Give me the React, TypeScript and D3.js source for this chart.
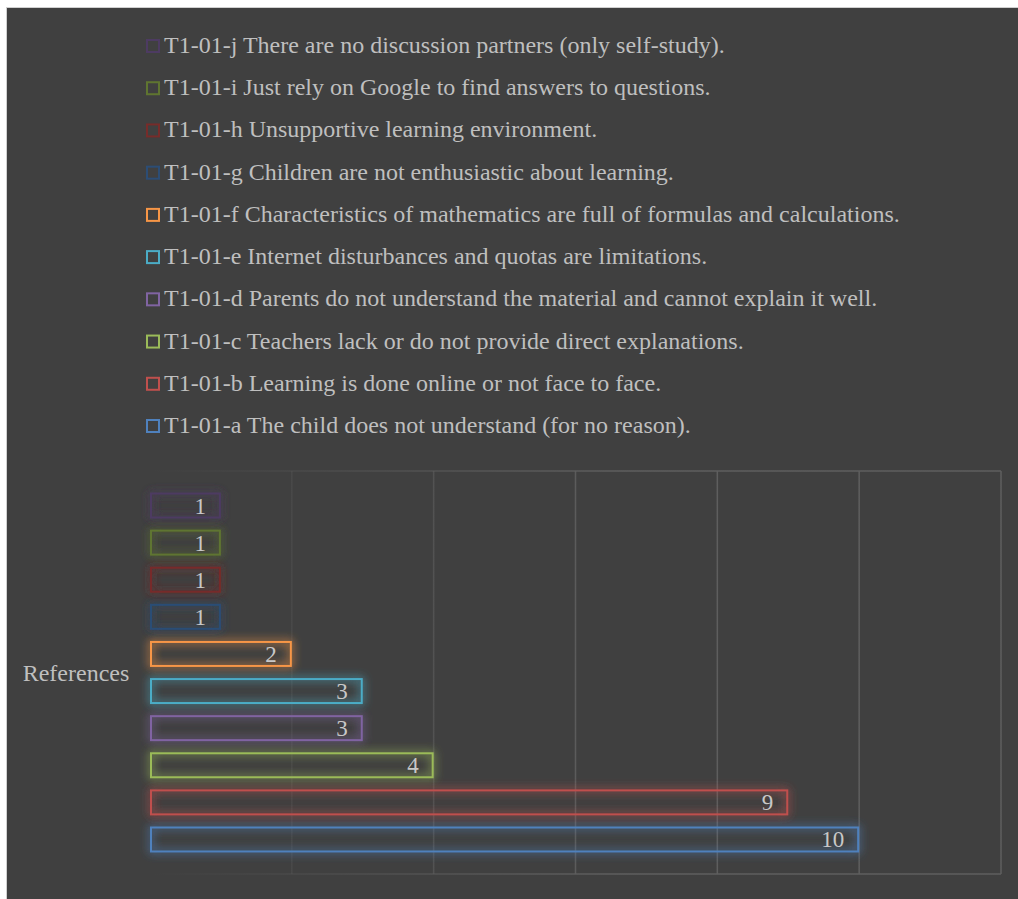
import React from "react";
import * as d3 from "d3";

const categories = [
  "T1-01-a The child does not understand (for no reason).",
  "T1-01-b Learning is done online or not face to face.",
  "T1-01-c Teachers lack or do not provide direct explanations.",
  "T1-01-d Parents do not understand the material and cannot explain it well.",
  "T1-01-e Internet disturbances and quotas are limitations.",
  "T1-01-f Characteristics of mathematics are full of formulas and calculations.",
  "T1-01-g Children are not enthusiastic about learning.",
  "T1-01-h Unsupportive learning environment.",
  "T1-01-i Just rely on Google to find answers to questions.",
  "T1-01-j There are no discussion partners (only self-study).",
];
const values = [10, 9, 4, 3, 3, 2, 1, 1, 1, 1];
const colors = [
  "#4F81BD", "#C0504D", "#9BBB59", "#8064A2", "#4BACC6", "#F79646",
  "#2C4D75", "#772C2A", "#5F7530", "#4D3B62",
];
const xTicks = [0, 2, 4, 6, 8, 10, 12];
const axisTitle = "References";

const W = 1018, H = 899;
const plot = { left: 150, right: 1001, top: 471, bottom: 874 };

export default function App() {
  const x = d3.scaleLinear().domain([0, 12]).range([plot.left, plot.right]);
  const y = d3
    .scaleBand<string>()
    .domain([...categories].reverse())
    .range([plot.top, plot.bottom])
    .paddingInner(0.3)
    .paddingOuter(0.58);

  const legendOrder = [...categories].reverse();
  const legendY = d3.scaleLinear().domain([0, 9]).range([45, 425]);
  const font = "Times New Roman, Liberation Serif, serif";

  return (
    <svg width={W} height={H} style={{ position: "absolute", left: 0, top: 0 }}>
      <defs>
        <filter id="glow" x="-20%" y="-80%" width="140%" height="260%">
          <feGaussianBlur in="SourceGraphic" stdDeviation="5" result="b" />
          <feComponentTransfer in="b" result="b2">
            <feFuncA type="linear" slope="1.5" />
          </feComponentTransfer>
          <feMerge>
            <feMergeNode in="b2" />
            <feMergeNode in="SourceGraphic" />
          </feMerge>
        </filter>
        <linearGradient id="gridGrad" gradientUnits="userSpaceOnUse" x1={plot.left} y1={0} x2={620} y2={0}>
          <stop offset="0" stopColor="#5e5e5e" stopOpacity="0" />
          <stop offset="1" stopColor="#5e5e5e" stopOpacity="1" />
        </linearGradient>
      </defs>
      <rect x={0} y={0} width={W} height={H} fill="#ffffff" />
      <rect x={6.5} y={7.5} width={W} height={H} fill="#404040" stroke="#d0d0d0" strokeWidth={1} />

      <g>
        {xTicks.slice(1).map((t) => (
          <line key={t} x1={x(t)} x2={x(t)} y1={plot.top} y2={plot.bottom} stroke="url(#gridGrad)" strokeWidth={1.5} />
        ))}
        <line x1={plot.left} x2={plot.right} y1={plot.top} y2={plot.top} stroke="url(#gridGrad)" strokeWidth={1.5} />
        <line x1={plot.left} x2={plot.right} y1={plot.bottom} y2={plot.bottom} stroke="url(#gridGrad)" strokeWidth={1.5} />
      </g>

      <g>
        {categories.map((c, i) => {
          const by = y(c)!;
          const bh = y.bandwidth();
          const bw = x(values[i]) - x(0);
          return (
            <g key={c}>
              <rect
                x={x(0) + 1}
                y={by + 1}
                width={bw - 2}
                height={bh - 2}
                fill="none"
                stroke={colors[i]}
                strokeWidth={2}
                filter="url(#glow)"
              />
              <text
                x={x(values[i]) - 15}
                y={by + bh / 2 + 8}
                textAnchor="end"
                fill="#c8c8c8"
                fontFamily={font}
                fontSize={23}
              >
                {values[i]}
              </text>
            </g>
          );
        })}
      </g>

      <text x={76} y={(plot.top + plot.bottom) / 2 + 8} textAnchor="middle" fill="#bfbfbf" fontFamily={font} fontSize={24}>
        {axisTitle}
      </text>

      <g>
        {legendOrder.map((c, k) => {
          const i = categories.indexOf(c);
          const ly = legendY(k);
          return (
            <g key={c}>
              <rect x={147} y={ly - 5} width={12} height={12} fill="none" stroke={colors[i]} strokeWidth={2} />
              <text x={164} y={ly + 8} fill="#bfbfbf" fontFamily={font} fontSize={24}>
                {c}
              </text>
            </g>
          );
        })}
      </g>
    </svg>
  );
}
